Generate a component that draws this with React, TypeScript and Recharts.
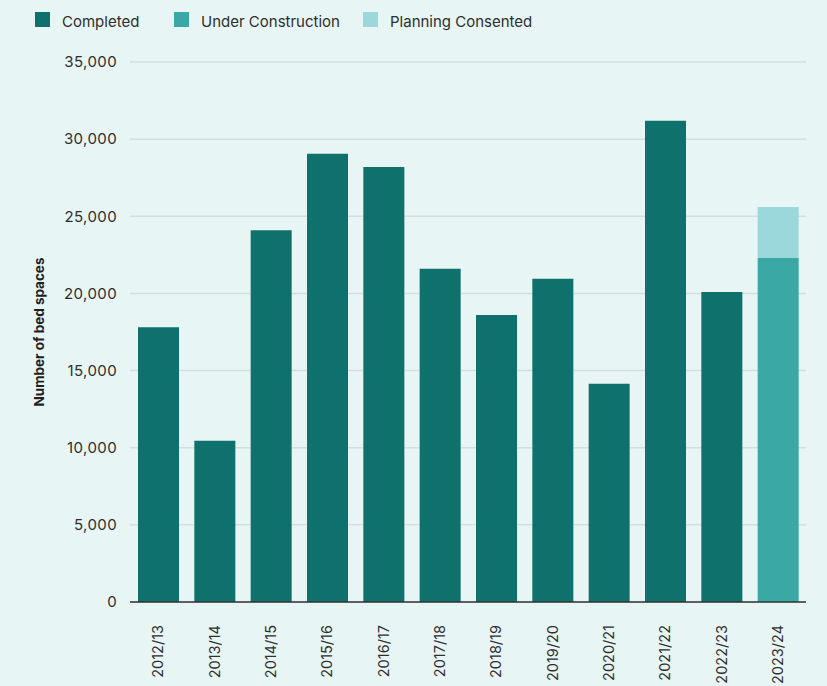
import { BarChart, Bar, XAxis, YAxis, CartesianGrid, Label } from 'recharts'

const years = [
  '2012/13', '2013/14', '2014/15', '2015/16', '2016/17', '2017/18',
  '2018/19', '2019/20', '2020/21', '2021/22', '2022/23', '2023/24',
]
const completed = [17800, 10450, 24100, 29050, 28200, 21600, 18600, 20950, 14150, 31200, 20100, 0]
const underConstruction = [0, 0, 0, 0, 0, 0, 0, 0, 0, 0, 0, 22300]
const planningConsented = [0, 0, 0, 0, 0, 0, 0, 0, 0, 0, 0, 3300]
const yTicks = [0, 5000, 10000, 15000, 20000, 25000, 30000, 35000]

const series = [
  { key: 'completed', name: 'Completed', color: '#0e716c' },
  { key: 'underConstruction', name: 'Under Construction', color: '#3aa8a5' },
  { key: 'planningConsented', name: 'Planning Consented', color: '#9bd8db' },
]
// legend item left edges
const legendLefts = [35, 174, 363]

const data = years.map((year, i) => ({
  year,
  completed: completed[i],
  underConstruction: underConstruction[i],
  planningConsented: planningConsented[i],
}))

const FONT = 'Inter, "Noto Sans", sans-serif'
const TEXT = '#2e2e2e'

function XTick(props: any) {
  const { x, y, payload } = props
  return (
    <text
      x={x}
      y={y}
      transform={`rotate(-90, ${x}, ${y})`}
      textAnchor="end"
      dy="0.35em"
      dx={-15}
      fill={TEXT}
      fontSize={14.5}
      fontFamily={FONT}
    >
      {payload.value}
    </text>
  )
}

function LegendRow() {
  return (
    <>
      {series.map((s, i) => (
        <div
          key={s.key}
          style={{
            position: 'absolute',
            left: legendLefts[i],
            top: 12,
            height: 15,
            display: 'flex',
            alignItems: 'center',
            fontFamily: FONT,
            fontSize: 15,
            color: TEXT,
            whiteSpace: 'nowrap',
          }}
        >
          <span style={{ width: 15, height: 15, background: s.color, display: 'inline-block', marginRight: 12 }} />
          <span style={{ position: 'relative', top: 2 }}>{s.name}</span>
        </div>
      ))}
    </>
  )
}

export default function App() {
  return (
    <div
      style={{
        position: 'absolute',
        left: 0,
        top: 0,
        width: 827,
        height: 686,
        background: '#e8f5f5',
        overflow: 'hidden',
      }}
    >
      <LegendRow />
      <BarChart
        width={827}
        height={686}
        data={data}
        margin={{ top: 62, right: 21, bottom: 0, left: 0 }}
        barSize={41}
      >
        <CartesianGrid vertical={false} stroke="#d5dedf" strokeWidth={1.5} />
        <YAxis
          width={130}
          domain={[0, 35000]}
          ticks={yTicks}
          axisLine={false}
          tickLine={false}
          tickSize={0}
          tickMargin={13}
          tick={{ fontSize: 15, fill: TEXT, fontFamily: FONT, letterSpacing: 0.4 }}
          tickFormatter={(v: number) => v.toLocaleString('en-GB')}
        >
          <Label
            value="Number of bed spaces"
            angle={-90}
            position="center"
            dx={-26}
            style={{ fontSize: 13.5, fontWeight: 700, fill: '#1f1f1f', fontFamily: FONT }}
          />
        </YAxis>
        <XAxis
          dataKey="year"
          height={84}
          interval={0}
          tickLine={false}
          axisLine={{ stroke: '#333', strokeWidth: 1.5 }}
          tick={<XTick />}
        />
        {series.map((s) => (
          <Bar
            key={s.key}
            dataKey={s.key}
            name={s.name}
            stackId="a"
            fill={s.color}
            isAnimationActive={false}
          />
        ))}
      </BarChart>
    </div>
  )
}
